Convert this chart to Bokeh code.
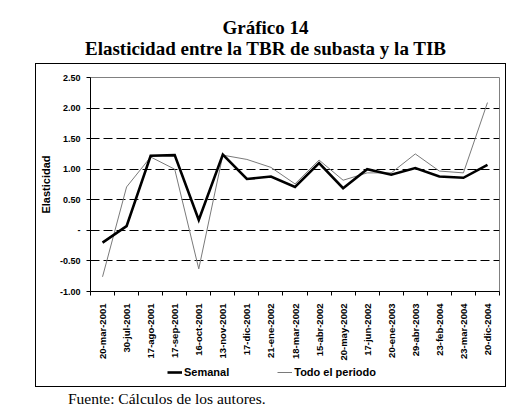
from math import pi
from bokeh.plotting import figure
from bokeh.models import (Range1d, FixedTicker, CustomJSTickFormatter, Legend,
                          LegendItem, Div)
from bokeh.layouts import column
from bokeh.embed import file_html
from bokeh.resources import INLINE

# ---- data ----
categories = ["20-mar-2001", "30-jul-2001", "17-ago-2001", "17-sep-2001",
              "16-oct-2001", "13-nov-2001", "17-dic-2001", "21-ene-2002",
              "18-mar-2002", "15-abr-2002", "20-may-2002", "17-jun-2002",
              "20-ene-2003", "29-abr-2003", "23-feb-2004", "23-mar-2004",
              "20-dic-2004"]
semanal = [-0.20, 0.07, 1.22, 1.23, 0.17, 1.24, 0.84, 0.88, 0.71, 1.10,
           0.69, 1.00, 0.91, 1.02, 0.88, 0.86, 1.07]
todo_periodo = [-0.76, 0.71, 1.20, 1.00, -0.63, 1.23, 1.16, 1.03, 0.76, 1.15,
                0.82, 0.94, 0.94, 1.25, 0.97, 0.94, 2.09]
y_ticks = [-1.0, -0.5, 0.0, 0.5, 1.0, 1.5, 2.0, 2.5]
grid_ticks = [-0.5, 0.0, 0.5, 1.0, 1.5, 2.0]
series_names = ["Semanal", "Todo el periodo"]
series_colors = ["black", "#7a7a7a"]
series_widths = [2.6, 1]
title_line1 = "Gráfico 14"
title_line2 = "Elasticidad entre la TBR de subasta y la TIB"
y_label = "Elasticidad"
source_note = "Fuente: Cálculos de los autores."

x = list(range(len(categories)))
series_values = [semanal, todo_periodo]
SANS = "Liberation Sans"

# ---------------- main chart ----------------
p = figure(width=469, height=299,
           x_range=Range1d(-0.5, len(categories) - 0.5),
           y_range=Range1d(y_ticks[0], y_ticks[-1]),
           output_backend="svg", toolbar_location=None,
           min_border_left=54, min_border_right=6,
           min_border_top=13, min_border_bottom=66)
p.background_fill_color = "white"
p.border_fill_color = "white"
p.outline_line_color = "#808080"
p.outline_line_width = 1

r_all = p.line(x, todo_periodo, line_color=series_colors[1], line_width=series_widths[1])
r_sem = p.line(x, semanal, line_color=series_colors[0], line_width=series_widths[0],
               line_join="miter")

p.xgrid.visible = False
p.ygrid.ticker = FixedTicker(ticks=grid_ticks)
p.ygrid.grid_line_color = "black"
p.ygrid.grid_line_dash = "9 4"
p.ygrid.grid_line_width = 1

ya = p.yaxis[0]
ya.ticker = FixedTicker(ticks=y_ticks)
ya.formatter = CustomJSTickFormatter(
    code="return Math.abs(tick) < 1e-9 ? '-' : tick.toFixed(2);")
ya.axis_line_color = "black"
ya.major_tick_line_color = "black"
ya.major_tick_out = 4
ya.major_tick_in = 0
ya.minor_tick_out = 0
ya.minor_tick_in = 0
ya.major_label_standoff = 6
ya.major_label_text_font = SANS
ya.major_label_text_font_style = "bold"
ya.major_label_text_font_size = "9px"
ya.major_label_text_color = "black"
ya.axis_label = y_label
ya.axis_label_text_font = SANS
ya.axis_label_text_font_style = "bold"
ya.axis_label_text_font_size = "11px"
ya.axis_label_text_color = "black"
ya.axis_label_standoff = 5

xa = p.xaxis[0]
xa.ticker = FixedTicker(ticks=x,
                        minor_ticks=[i - 0.5 for i in range(len(categories) + 1)])
xa.formatter = CustomJSTickFormatter(
    args=dict(labels=categories),
    code="const i = Math.round(tick); return (i >= 0 && i < labels.length) ? labels[i] : '';")
xa.major_label_orientation = pi / 2
xa.axis_line_color = "black"
xa.major_tick_out = 0
xa.major_tick_in = 0
xa.minor_tick_out = 4
xa.minor_tick_in = 0
xa.minor_tick_line_color = "black"
xa.major_label_standoff = 8
xa.major_label_text_font = SANS
xa.major_label_text_font_style = "bold"
xa.major_label_text_font_size = "9.5px"
xa.major_label_text_color = "black"

# ---------------- legend strip (same series, drawn outside its view) ----------------
pl = figure(width=469, height=23,
            x_range=Range1d(-0.5, len(categories) - 0.5),
            y_range=Range1d(100, 101),
            output_backend="svg", toolbar_location=None,
            min_border_left=0, min_border_right=0, min_border_top=0,
            min_border_bottom=0)
pl.axis.visible = False
pl.grid.visible = False
pl.outline_line_color = None
pl.background_fill_color = "white"
pl.border_fill_color = "white"
leg_renderers = [pl.line(x, vals, line_color=c, line_width=w)
                 for vals, c, w in zip(series_values, series_colors, series_widths)]
legend = Legend(items=[LegendItem(label=n, renderers=[r])
                       for n, r in zip(series_names, leg_renderers)],
                orientation="horizontal", location=(77, 8))
legend.padding = 0
legend.margin = 0
legend.spacing = 48
legend.glyph_width = 15
legend.glyph_height = 12
legend.label_height = 12
legend.label_standoff = 2
legend.label_text_font = SANS
legend.label_text_font_style = "bold"
legend.label_text_font_size = "11px"
legend.label_text_color = "black"
legend.border_line_color = None
legend.background_fill_alpha = 0
pl.add_layout(legend, "center")

boxed = column(p, pl, spacing=0, margin=(0, 0, 0, 27),
               styles={"border": "1px solid black"})

title_div = Div(
    text=("<div style=\"width:515px;text-align:center;font-family:'Liberation Serif';"
          "font-weight:bold;font-size:19px;line-height:21px;padding-top:9px;"
          "color:black;\">" + title_line1 + "<br>" + title_line2 + "</div>"),
    width=515, height=55, margin=(0, 0, 0, 0))

foot_div = Div(
    text=("<div style=\"font-family:'Liberation Serif';font-size:15.5px;"
          "line-height:17px;padding-top:2.6px;padding-left:60px;color:black;"
          "white-space:nowrap;\">" + source_note + "</div>"),
    width=515, height=22, margin=(0, 0, 0, 0))

layout = column(title_div, boxed, foot_div, spacing=0, margin=(8, 0, 0, 8))

with open("out.html", "w") as f:
    f.write(file_html(layout, INLINE))
